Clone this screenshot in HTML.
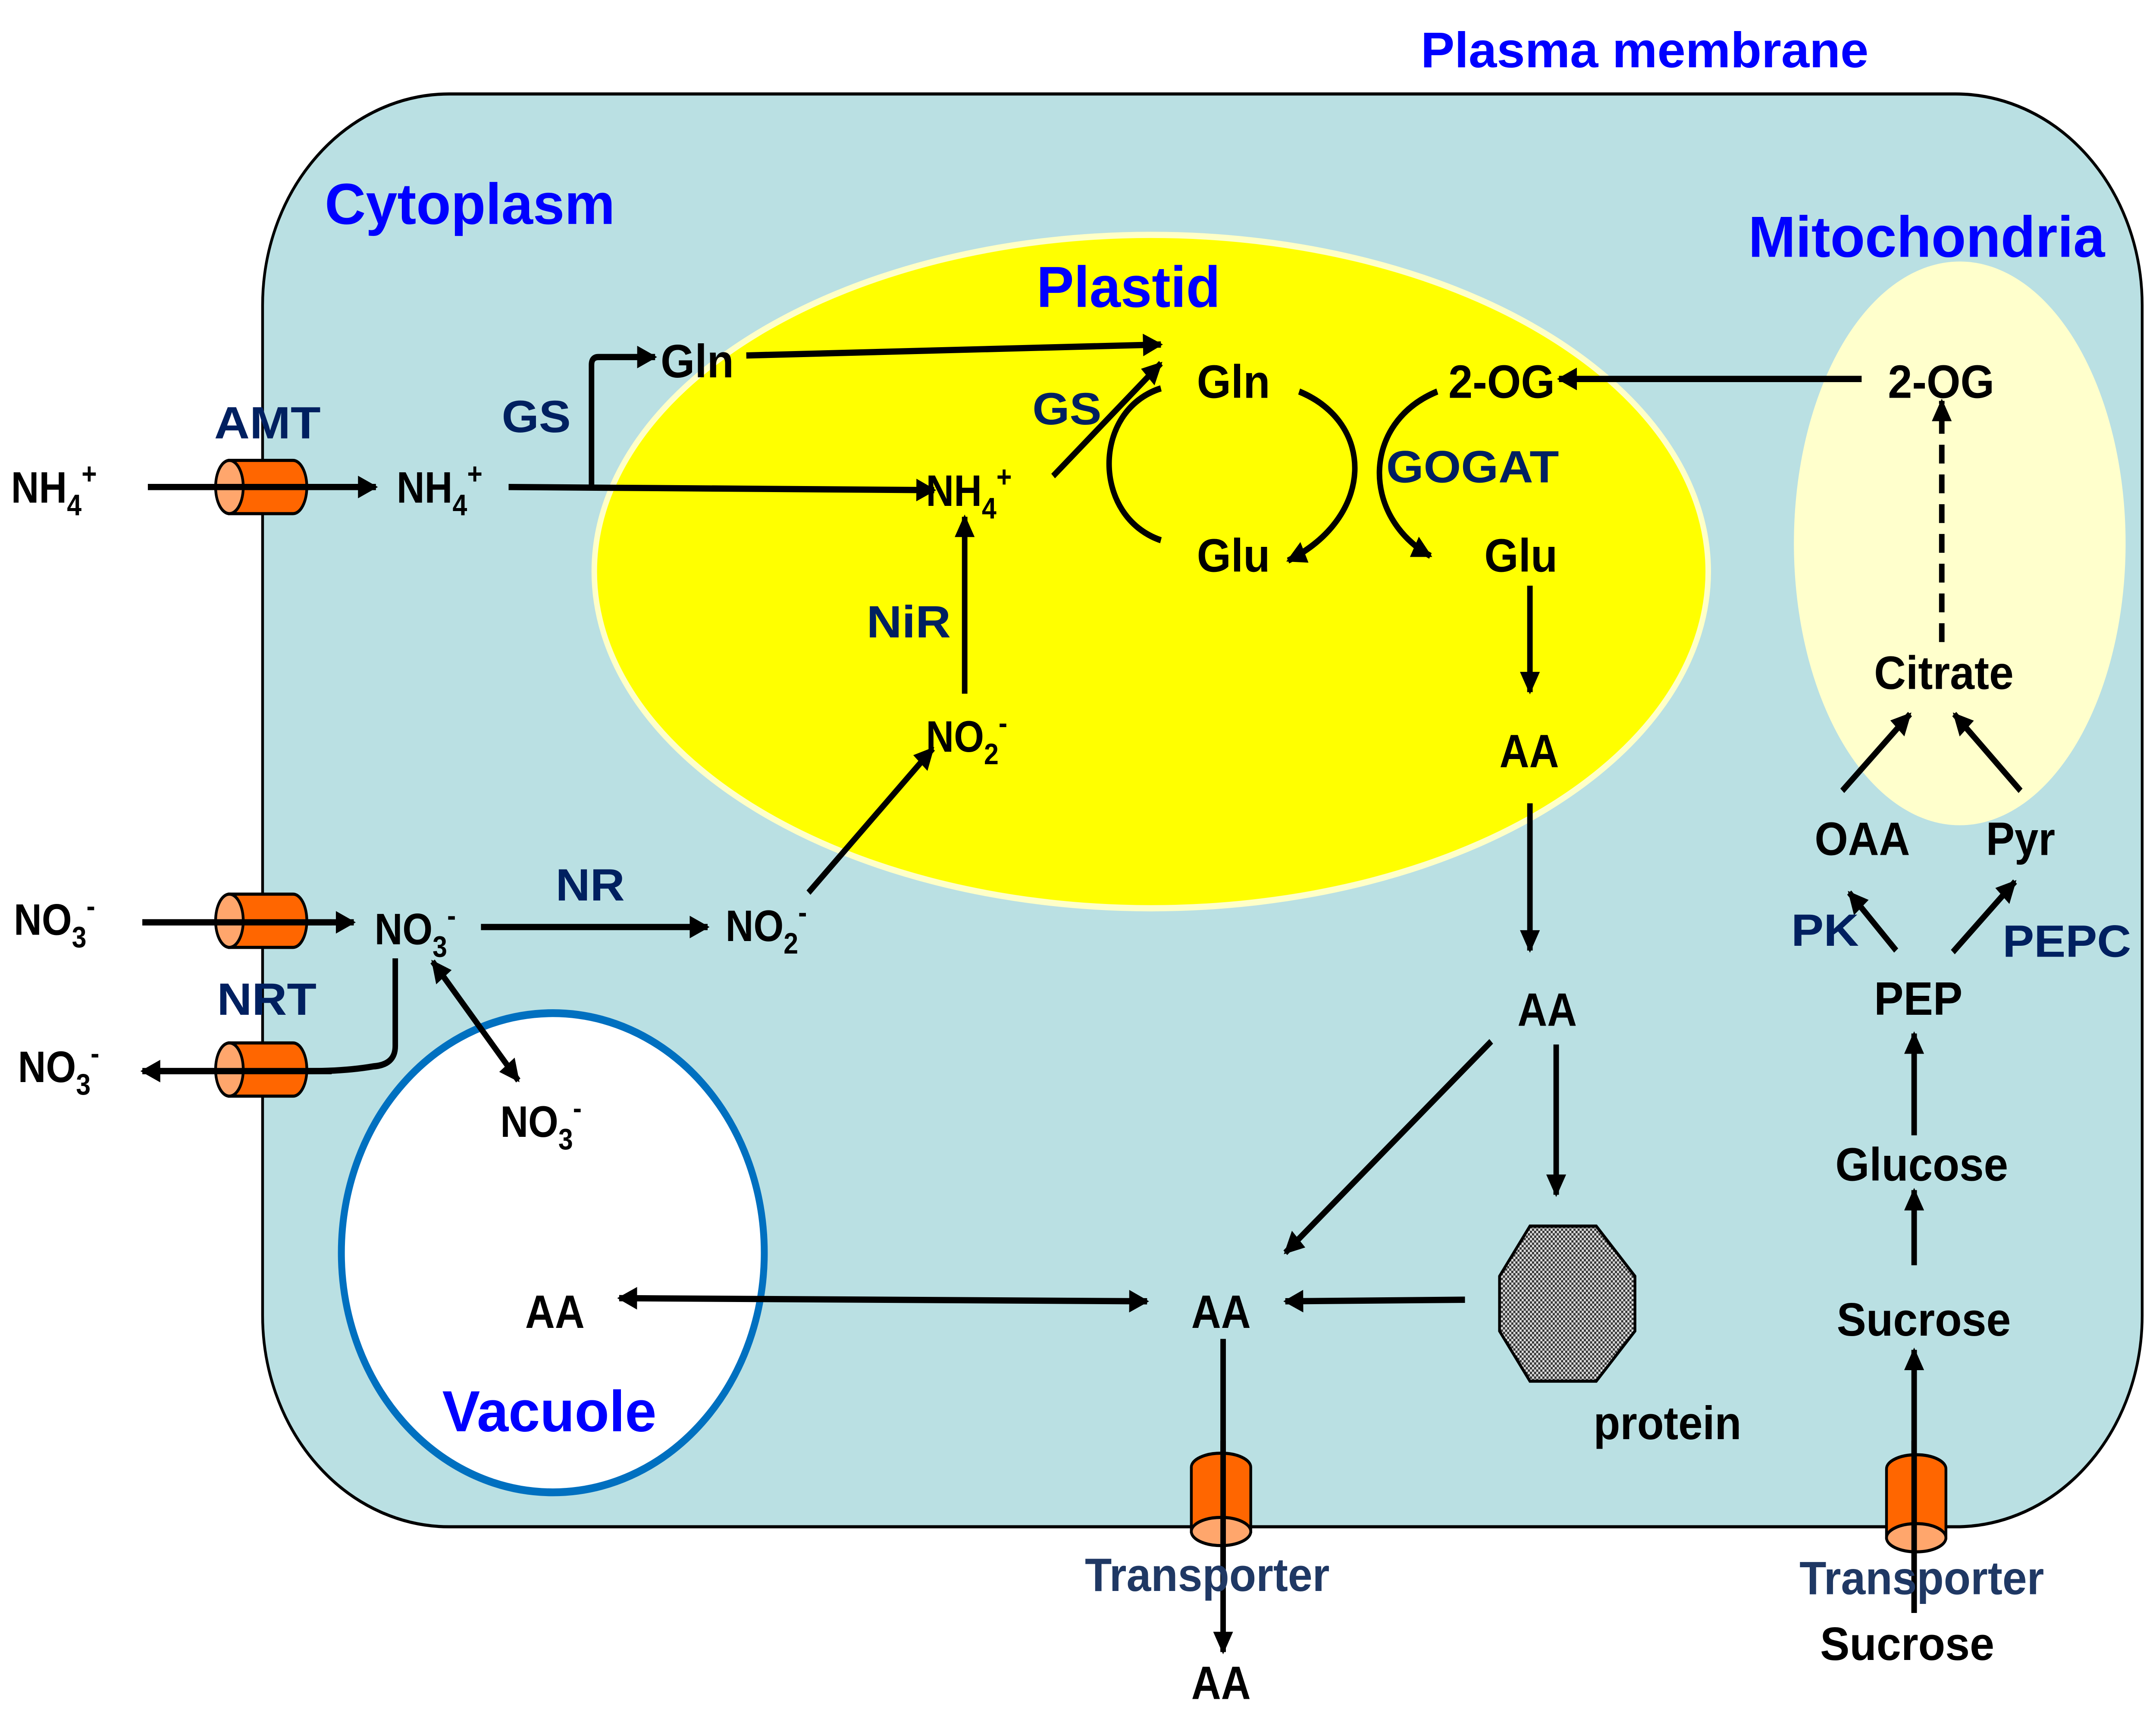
<!DOCTYPE html>
<html><head><meta charset="utf-8"><style>
html,body{margin:0;padding:0;background:#fff;width:100%;height:100%;overflow:hidden}
svg{display:block;position:fixed;left:0;top:0;width:100vw;height:100vh}
.t{font-family:"Liberation Sans",sans-serif;font-weight:bold;fill:#000;font-size:28px}
.n{font-family:"Liberation Sans",sans-serif;font-weight:bold;fill:#000;font-size:30px}
.e{font-family:"Liberation Sans",sans-serif;font-weight:900;fill:#002060;font-size:29px}
.en{font-family:"Liberation Sans",sans-serif;font-weight:bold;fill:#1f3864;font-size:30px}
.b{font-family:"Liberation Sans",sans-serif;font-weight:bold;fill:#0000ff}
.s{font-size:19px}
</style></head><body>
<svg viewBox="0 0 1560 1092" preserveAspectRatio="none" xmlns="http://www.w3.org/2000/svg">
<defs>
<marker id="a" viewBox="0 0 10 10" refX="9" refY="5" markerWidth="4" markerHeight="3.6" orient="auto-start-reverse" markerUnits="strokeWidth"><path d="M0,0 L10,5 L0,10 z" fill="#000"/></marker>
<pattern id="chk" width="3" height="3" patternUnits="userSpaceOnUse"><rect width="3" height="3" fill="#ddd"/><rect width="1.5" height="1.5" fill="#333"/><rect x="1.5" y="1.5" width="1.5" height="1.5" fill="#333"/></pattern>
</defs>
<rect x="190" y="60" width="1360" height="915" rx="135" ry="135" fill="#bae0e3" stroke="#000" stroke-width="2"/>
<ellipse cx="833" cy="365" rx="403" ry="215" fill="#ffff00" stroke="#ffffc8" stroke-width="4"/>
<ellipse cx="1418" cy="347" rx="120" ry="180" fill="#ffffcc"/>
<circle cx="400" cy="800" r="153" fill="#fff" stroke="#0070c0" stroke-width="5"/>

<g class="b">
<text x="1028" y="43" font-size="32" textLength="324" lengthAdjust="spacingAndGlyphs">Plasma membrane</text>
<text x="235" y="143" font-size="37" textLength="210" lengthAdjust="spacingAndGlyphs">Cytoplasm</text>
<text x="750" y="196" font-size="37" textLength="133" lengthAdjust="spacingAndGlyphs">Plastid</text>
<text x="1265" y="164" font-size="37" textLength="258" lengthAdjust="spacingAndGlyphs">Mitochondria</text>
<text x="320" y="914" font-size="37" textLength="155" lengthAdjust="spacingAndGlyphs">Vacuole</text>
</g>

<g stroke="#000" stroke-width="4" fill="none">
<line x1="107" y1="311" x2="272" y2="311" marker-end="url(#a)"/>
<line x1="368" y1="311" x2="676" y2="313" marker-end="url(#a)"/>
<path d="M428,311 V233 Q428,228 433,228 H474" marker-end="url(#a)"/>
<line x1="540" y1="227" x2="840" y2="220" marker-end="url(#a)"/>
<line x1="762" y1="304" x2="840" y2="232" marker-end="url(#a)"/>
<path d="M840,248 C790,262 790,330 840,345"/>
<path d="M940,250 C995,270 995,330 932,358" marker-end="url(#a)"/>
<path d="M1040,250 C985,270 985,330 1035,355" marker-end="url(#a)"/>
<line x1="1347" y1="242" x2="1128" y2="242" marker-end="url(#a)"/>
<line x1="1405" y1="410" x2="1405" y2="256" stroke-dasharray="12,7" marker-end="url(#a)"/>
<line x1="1107" y1="374" x2="1107" y2="442" marker-end="url(#a)"/>
<line x1="1107" y1="513" x2="1107" y2="607" marker-end="url(#a)"/>
<line x1="1126" y1="667" x2="1126" y2="763" marker-end="url(#a)"/>
<line x1="1079" y1="665" x2="930" y2="800" marker-end="url(#a)"/>
<line x1="1060" y1="830" x2="930" y2="831" marker-end="url(#a)"/>
<line x1="448" y1="829" x2="830" y2="831" marker-start="url(#a)" marker-end="url(#a)"/>
<line x1="885" y1="855" x2="885" y2="1055" marker-end="url(#a)"/>
<line x1="698" y1="443" x2="698" y2="330" marker-end="url(#a)"/>
<line x1="585" y1="570" x2="675" y2="478" marker-end="url(#a)"/>
<line x1="348" y1="592" x2="512" y2="592" marker-end="url(#a)"/>
<line x1="103" y1="589" x2="256" y2="589" marker-end="url(#a)"/>
<path d="M286,612 V668 Q286,680 270,681 Q250,684 225,684 H103" marker-end="url(#a)"/>
<line x1="313" y1="614" x2="375" y2="690" marker-start="url(#a)" marker-end="url(#a)"/>
<line x1="1385" y1="1030" x2="1385" y2="862" marker-end="url(#a)"/>
<line x1="1385" y1="808" x2="1385" y2="760" marker-end="url(#a)"/>
<line x1="1385" y1="725" x2="1385" y2="660" marker-end="url(#a)"/>
<line x1="1372" y1="607" x2="1338" y2="570" marker-end="url(#a)"/>
<line x1="1413" y1="608" x2="1458" y2="563" marker-end="url(#a)"/>
<line x1="1333" y1="505" x2="1382" y2="456" marker-end="url(#a)"/>
<line x1="1462" y1="505" x2="1414" y2="456" marker-end="url(#a)"/>
</g>

<g stroke="#000" stroke-width="2">
<g transform="translate(0,311)"><path d="M166,-17 H212 A10,17 0 0 1 212,17 H166 Z" fill="#ff6600"/><ellipse cx="166" cy="0" rx="10" ry="17" fill="#ffa66c"/></g>
<g transform="translate(0,588)"><path d="M166,-17 H212 A10,17 0 0 1 212,17 H166 Z" fill="#ff6600"/><ellipse cx="166" cy="0" rx="10" ry="17" fill="#ffa66c"/></g>
<g transform="translate(0,683)"><path d="M166,-17 H212 A10,17 0 0 1 212,17 H166 Z" fill="#ff6600"/><ellipse cx="166" cy="0" rx="10" ry="17" fill="#ffa66c"/></g>
<path d="M862,937 A21.5,9 0 0 1 905,937 V978 H862 Z" fill="#ff6600"/>
<ellipse cx="883.5" cy="978" rx="21.5" ry="9" fill="#ffa66c"/>
<path d="M1365,938 A21.5,9 0 0 1 1408,938 V982 H1365 Z" fill="#ff6600"/>
<ellipse cx="1386.5" cy="982" rx="21.5" ry="9" fill="#ffa66c"/>
</g>
<g stroke="#000" stroke-width="4">
<line x1="107" y1="311" x2="240" y2="311"/><line x1="103" y1="589" x2="240" y2="589"/><line x1="110" y1="684" x2="240" y2="684"/>
<line x1="885" y1="920" x2="885" y2="1000"/><line x1="1385" y1="920" x2="1385" y2="1030"/>
</g>

<polygon points="1107,783 1155,783 1183,815 1183,850 1155,882 1107,882 1085,850 1085,815" fill="url(#chk)" stroke="#000" stroke-width="2"/>

<g class="t">
<text x="8" y="321">NH<tspan class="s" dy="8">4</tspan><tspan class="s" dy="-20">+</tspan></text>
<text x="287" y="321">NH<tspan class="s" dy="8">4</tspan><tspan class="s" dy="-20">+</tspan></text>
<text x="670" y="323">NH<tspan class="s" dy="8">4</tspan><tspan class="s" dy="-20">+</tspan></text>
<text x="10" y="597">NO<tspan class="s" dy="8">3</tspan><tspan class="s" dy="-20">-</tspan></text>
<text x="271" y="603">NO<tspan class="s" dy="8">3</tspan><tspan class="s" dy="-20">-</tspan></text>
<text x="13" y="691">NO<tspan class="s" dy="8">3</tspan><tspan class="s" dy="-20">-</tspan></text>
<text x="362" y="726">NO<tspan class="s" dy="8">3</tspan><tspan class="s" dy="-20">-</tspan></text>
<text x="525" y="601">NO<tspan class="s" dy="8">2</tspan><tspan class="s" dy="-20">-</tspan></text>
<text x="670" y="480">NO<tspan class="s" dy="8">2</tspan><tspan class="s" dy="-20">-</tspan></text>
</g>
<g class="n">
<text x="478" y="241" textLength="53" lengthAdjust="spacingAndGlyphs">Gln</text>
<text x="866" y="254" textLength="53" lengthAdjust="spacingAndGlyphs">Gln</text>
<text x="866" y="365" textLength="53" lengthAdjust="spacingAndGlyphs">Glu</text>
<text x="1074" y="365" textLength="53" lengthAdjust="spacingAndGlyphs">Glu</text>
<text x="1048" y="254" textLength="77" lengthAdjust="spacingAndGlyphs">2-OG</text>
<text x="1366" y="254" textLength="77" lengthAdjust="spacingAndGlyphs">2-OG</text>
<text x="1356" y="440" textLength="101" lengthAdjust="spacingAndGlyphs">Citrate</text>
<text x="1085" y="490" textLength="43" lengthAdjust="spacingAndGlyphs">AA</text>
<text x="1098" y="655" textLength="43" lengthAdjust="spacingAndGlyphs">AA</text>
<text x="862" y="848" textLength="43" lengthAdjust="spacingAndGlyphs">AA</text>
<text x="380" y="848" textLength="43" lengthAdjust="spacingAndGlyphs">AA</text>
<text x="862" y="1085" textLength="43" lengthAdjust="spacingAndGlyphs">AA</text>
<text x="1313" y="546" textLength="69" lengthAdjust="spacingAndGlyphs">OAA</text>
<text x="1437" y="546" textLength="50" lengthAdjust="spacingAndGlyphs">Pyr</text>
<text x="1356" y="648" textLength="64" lengthAdjust="spacingAndGlyphs">PEP</text>
<text x="1328" y="754" textLength="125" lengthAdjust="spacingAndGlyphs">Glucose</text>
<text x="1329" y="853" textLength="126" lengthAdjust="spacingAndGlyphs">Sucrose</text>
<text x="1317" y="1060" textLength="126" lengthAdjust="spacingAndGlyphs">Sucrose</text>
<text x="1153" y="919" textLength="107" lengthAdjust="spacingAndGlyphs">protein</text>
</g>
<g class="e">
<text x="155" y="280" textLength="77" lengthAdjust="spacingAndGlyphs">AMT</text>
<text x="363" y="276" textLength="50" lengthAdjust="spacingAndGlyphs">GS</text>
<text x="747" y="271" textLength="50" lengthAdjust="spacingAndGlyphs">GS</text>
<text x="627" y="407" textLength="61" lengthAdjust="spacingAndGlyphs">NiR</text>
<text x="1003" y="308" textLength="125" lengthAdjust="spacingAndGlyphs">GOGAT</text>
<text x="402" y="575" textLength="50" lengthAdjust="spacingAndGlyphs">NR</text>
<text x="157" y="648" textLength="72" lengthAdjust="spacingAndGlyphs">NRT</text>
<text x="1296" y="604" textLength="49" lengthAdjust="spacingAndGlyphs">PK</text>
<text x="1449" y="611" textLength="93" lengthAdjust="spacingAndGlyphs">PEPC</text>
</g>
<g class="en">
<text x="785" y="1016" textLength="177" lengthAdjust="spacingAndGlyphs">Transporter</text>
<text x="1302" y="1018" textLength="177" lengthAdjust="spacingAndGlyphs">Transporter</text>
</g>
</svg>
</body></html>
